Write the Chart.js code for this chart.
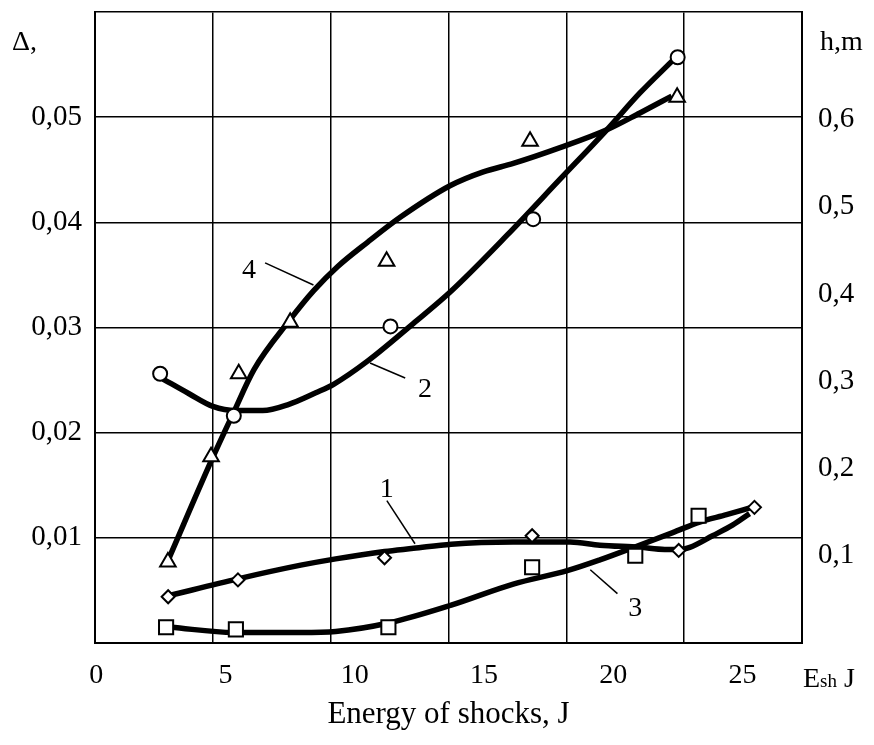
<!DOCTYPE html>
<html>
<head>
<meta charset="utf-8">
<script src="https://cdn.jsdelivr.net/npm/chart.js@4.4.1/dist/chart.umd.min.js"></script>
<style>
  html, body { margin: 0; padding: 0; background: #fff; }
</style>
</head>
<body>
<canvas id="chart" width="874" height="745"></canvas>
<script>
// values: x = energy of shocks (J), y = delta
const xTicks = [0, 5, 10, 15, 20, 25];
const leftTicks = [0.01, 0.02, 0.03, 0.04, 0.05];
const rightTicks = [0.1, 0.2, 0.3, 0.4, 0.5, 0.6];

// measured points
const tri4X = [2.77, 4.44, 5.51, 7.50, 11.23, 16.78, 22.47];
const tri4Y = [0.0077, 0.0177, 0.0256, 0.0305, 0.0363, 0.0477, 0.0519];
const circ2X = [2.47, 5.32, 11.38, 16.90, 22.49];
const circ2Y = [0.0256, 0.0216, 0.0301, 0.0403, 0.0557];
const dia1X = [2.78, 5.48, 11.15, 16.86, 22.53, 25.46];
const dia1Y = [0.0044, 0.0060, 0.0081, 0.0102, 0.0088, 0.0129];
const sq3X = [2.70, 5.40, 11.30, 16.86, 20.85, 23.30];
const sq3Y = [0.0015, 0.0013, 0.0015, 0.0072, 0.0083, 0.0121];

// fitted curves
const curve4X = [2.82, 4.48, 5.29, 6.10, 7.48, 8.41, 9.34, 10.49, 11.77, 13.70, 14.97, 16.13, 17.94, 19.75, 21.03, 22.26];
const curve4Y = [0.0081, 0.0175, 0.0218, 0.0260, 0.0307, 0.0335, 0.0358, 0.0381, 0.0405, 0.0435, 0.0448, 0.0456, 0.0471, 0.0488, 0.0504, 0.0520];
const curve2X = [2.58, 3.59, 4.51, 5.40, 6.44, 7.45, 8.49, 9.18, 10.49, 12.27, 13.70, 15.90, 17.94, 19.75, 21.03, 22.30];
const curve2Y = [0.0251, 0.0237, 0.0225, 0.0221, 0.0221, 0.0227, 0.0238, 0.0246, 0.0268, 0.0304, 0.0334, 0.0388, 0.0441, 0.0488, 0.0523, 0.0554];
const curve1X = [2.82, 5.48, 7.91, 9.26, 11.15, 12.27, 13.73, 16.13, 18.33, 19.48, 21.03, 21.99, 22.57, 22.96, 23.84, 24.61, 25.27];
const curve1Y = [0.0045, 0.0061, 0.0074, 0.0080, 0.0087, 0.0090, 0.0094, 0.0096, 0.0096, 0.0093, 0.0091, 0.0089, 0.0089, 0.0091, 0.0102, 0.0112, 0.0123];
const curve3X = [2.89, 5.32, 7.91, 9.26, 11.30, 13.73, 16.13, 18.25, 19.48, 20.91, 22.30, 23.34, 24.38, 25.35];
const curve3Y = [0.0015, 0.0010, 0.0010, 0.0011, 0.0019, 0.0036, 0.0056, 0.0069, 0.0079, 0.0092, 0.0105, 0.0115, 0.0122, 0.0129];

// curve numbers with their leader lines (data units)
const callouts = [
    { text: '1', at: [11.24, 0.01457], from: [11.24, 0.01353], to: [12.33, 0.00944] },
    { text: '2', at: [12.72, 0.02413], from: [10.59, 0.02662], to: [11.95, 0.02520] },
    { text: '3', at: [20.85, 0.00322], from: [19.11, 0.00697], to: [20.16, 0.00470] },
    { text: '4', at: [5.91, 0.03539], from: [6.53, 0.03615], to: [8.40, 0.03404] },
];

const SERIF = '"Liberation Serif", "Times New Roman", serif';

function pts(xs, ys) {
    return xs.map(function (x, i) { return { x: x, y: ys[i] }; });
}

function curve(xs, ys) {
    return {
        data: pts(xs, ys),
        borderColor: '#000',
        borderWidth: 5.5,
        pointRadius: 0,
        cubicInterpolationMode: 'monotone',
        fill: false,
        order: 1,
    };
}

function marks(xs, ys, style, r) {
    return {
        data: pts(xs, ys),
        showLine: false,
        pointStyle: style,
        pointRadius: r,
        pointBorderWidth: 2,
        pointBorderColor: '#000',
        pointBackgroundColor: '#fff',
        order: 0,
    };
}

// vertical axes: no extra room for half label heights, the frame starts at the top
function noPad(s) {
    s.paddingTop = 0;
    s.paddingBottom = 0;
}

const extras = {
    id: 'extras',
    afterDraw: function (chart) {
        const ctx = chart.ctx;
        const a = chart.chartArea;
        const sx = chart.scales.x, sy = chart.scales.y;
        ctx.save();
        ctx.fillStyle = '#000';
        ctx.strokeStyle = '#000';

        // curve numbers
        ctx.font = '28px ' + SERIF;
        ctx.textAlign = 'center';
        ctx.textBaseline = 'middle';
        ctx.lineWidth = 1.5;
        callouts.forEach(function (c) {
            ctx.beginPath();
            ctx.moveTo(sx.getPixelForValue(c.from[0]), sy.getPixelForValue(c.from[1]));
            ctx.lineTo(sx.getPixelForValue(c.to[0]), sy.getPixelForValue(c.to[1]));
            ctx.stroke();
            ctx.fillText(c.text, sx.getPixelForValue(c.at[0]), sy.getPixelForValue(c.at[1]));
        });

        // axis names
        ctx.textAlign = 'left';
        ctx.textBaseline = 'alphabetic';
        ctx.fillText('\u0394,', 12, 50);
        ctx.fillText('h,m', a.right + 18, 50);

        // E_sh J after the last x label
        const base = a.bottom + 44;
        let x = a.right + 1;
        ctx.fillText('E', x, base);
        x += ctx.measureText('E').width;
        ctx.font = '19px ' + SERIF;
        ctx.fillText('sh', x, base);
        x += ctx.measureText('sh').width;
        ctx.font = '28px ' + SERIF;
        ctx.fillText(' J', x, base);
        ctx.restore();
    },
};

new Chart(document.getElementById('chart'), {
    type: 'line',
    data: {
        datasets: [
            curve(curve1X, curve1Y),
            curve(curve2X, curve2Y),
            curve(curve3X, curve3Y),
            curve(curve4X, curve4Y),
            marks(dia1X, dia1Y, 'rectRot', 6.5),
            marks(circ2X, circ2Y, 'circle', 7),
            marks(sq3X, sq3Y, 'rect', 10),
            marks(tri4X, tri4Y, 'triangle', 9),
        ],
    },
    options: {
        responsive: false,
        animation: false,
        layout: { padding: 0 },
        plugins: { legend: { display: false }, tooltip: { enabled: false } },
        scales: {
            x: {
                type: 'linear', position: 'bottom', min: -0.05, max: 27.3,
                afterBuildTicks: function (s) { s.ticks = xTicks.map(function (v) { return { value: v }; }); },
                afterFit: function (s) { s.height = 102; s.paddingLeft = 0; s.paddingRight = 0; },
                grid: { display: false, drawTicks: false },
                border: { display: true, color: '#000', width: 2 },
                ticks: { color: '#000', font: { family: SERIF, size: 28 }, padding: 16, maxRotation: 0, autoSkip: false,
                    callback: function (v) { return String(v); } },
                title: { display: true, text: 'Energy of shocks, J', color: '#000', font: { family: SERIF, size: 31 }, padding: { top: 0, bottom: 12 } },
            },
            xg: {
                type: 'linear', position: 'top', min: 0, max: 6,
                afterFit: function (s) { s.height = 9; },
                ticks: { display: false, stepSize: 1 },
                grid: { color: '#000', lineWidth: 1.5, drawTicks: false },
                border: { display: true, color: '#000', width: 1.5 },
            },
            y: {
                type: 'linear', position: 'left', min: 0, max: 0.06,
                afterBuildTicks: function (s) { s.ticks = leftTicks.map(function (v) { return { value: v }; }); },
                afterFit: function (s) { s.width = 95; noPad(s); },
                grid: { color: '#000', lineWidth: 1.5, drawTicks: false },
                border: { display: true, color: '#000', width: 2 },
                ticks: { color: '#000', font: { family: SERIF, size: 29 }, padding: 13,
                    callback: function (v) { return v.toFixed(2).replace('.', ','); } },
            },
            y1: {
                type: 'linear', position: 'right', min: 0, max: 0.723,
                afterBuildTicks: function (s) { s.ticks = rightTicks.map(function (v) { return { value: v }; }); },
                afterFit: function (s) { s.width = 72; noPad(s); },
                grid: { display: false, drawTicks: false },
                border: { display: true, color: '#000', width: 2 },
                ticks: { color: '#000', font: { family: SERIF, size: 29 }, padding: 16,
                    callback: function (v) { return v.toFixed(1).replace('.', ','); } },
            },
        },
    },
    plugins: [extras],
});
</script>
</body>
</html>
